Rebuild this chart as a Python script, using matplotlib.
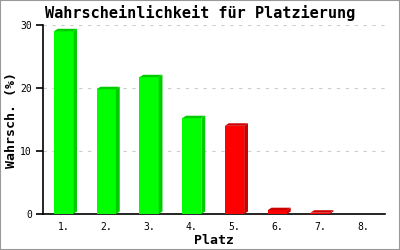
import matplotlib
matplotlib.use("Agg")
import matplotlib.pyplot as plt
from matplotlib.patches import Polygon, Rectangle

places = ["1.", "2.", "3.", "4.", "5.", "6.", "7.", "8."]
values = [29.0, 19.8, 21.7, 15.2, 14.0, 0.6, 0.2, 0.0]
colors = ["#00ff00", "#00ff00", "#00ff00", "#00ff00", "#ff0000", "#ff0000", "#ff0000", "#ff0000"]
shades = ["#00cc00", "#00cc00", "#00cc00", "#00cc00", "#cc0000", "#cc0000", "#cc0000", "#cc0000"]

fig = plt.figure(figsize=(4, 2.5), dpi=100)
ax = fig.add_axes([43 / 400, 36 / 250, 342 / 400, 189 / 250])

width = 0.45
dx, dy = 0.09, 0.4   # depth of the fake 3d side
for i, v in enumerate(values):
    x0 = i + 0.255
    if v > 0:
        ax.add_patch(Rectangle((x0, 0), width, v, facecolor=colors[i], edgecolor="none", zorder=3))
        ax.add_patch(Polygon([(x0 + width, 0), (x0 + width + dx, dy), (x0 + width + dx, v + dy), (x0 + width, v)],
                             facecolor=shades[i], edgecolor="none", zorder=3))
        ax.add_patch(Polygon([(x0, v), (x0 + dx, v + dy), (x0 + width + dx, v + dy), (x0 + width, v)],
                             facecolor=shades[i], edgecolor="none", zorder=3))

ax.set_xlim(0, 8)
ax.set_ylim(0, 30)
ax.set_yticks([0, 10, 20, 30])
ax.set_xticks([i + 0.48 for i in range(len(places))])
ax.set_xticklabels(places)
ax.grid(axis="y", color="#cccccc", linestyle=(0, (3, 5)), linewidth=0.8, zorder=0)
for s in ["top", "right"]:
    ax.spines[s].set_visible(False)
ax.spines["left"].set_linewidth(1.2)
ax.spines["bottom"].set_linewidth(1.2)
ax.tick_params(axis="y", length=5, width=1.2, labelsize=7, pad=3)
ax.tick_params(axis="x", length=0, labelsize=7, pad=6)
for lab in ax.get_xticklabels() + ax.get_yticklabels():
    lab.set_family("DejaVu Sans Mono")

ax.set_xlabel("Platz", family="DejaVu Sans Mono", fontweight="bold", fontsize=9.5, labelpad=1)
ax.set_ylabel("Wahrsch. (%)", family="DejaVu Sans Mono", fontweight="bold", fontsize=9.5)
ax.yaxis.set_label_coords(-25 / 342, 0.5)
fig.text(0.5, 1 - 13 / 250, "Wahrscheinlichkeit für Platzierung", ha="center", va="center",
         family="DejaVu Sans Mono", fontweight="bold", fontsize=11)

fig.patches.append(Rectangle((0, 0), 1, 1, transform=fig.transFigure, fill=False,
                             edgecolor="#999999", linewidth=1.5))

fig.savefig("out.png", dpi=100)
